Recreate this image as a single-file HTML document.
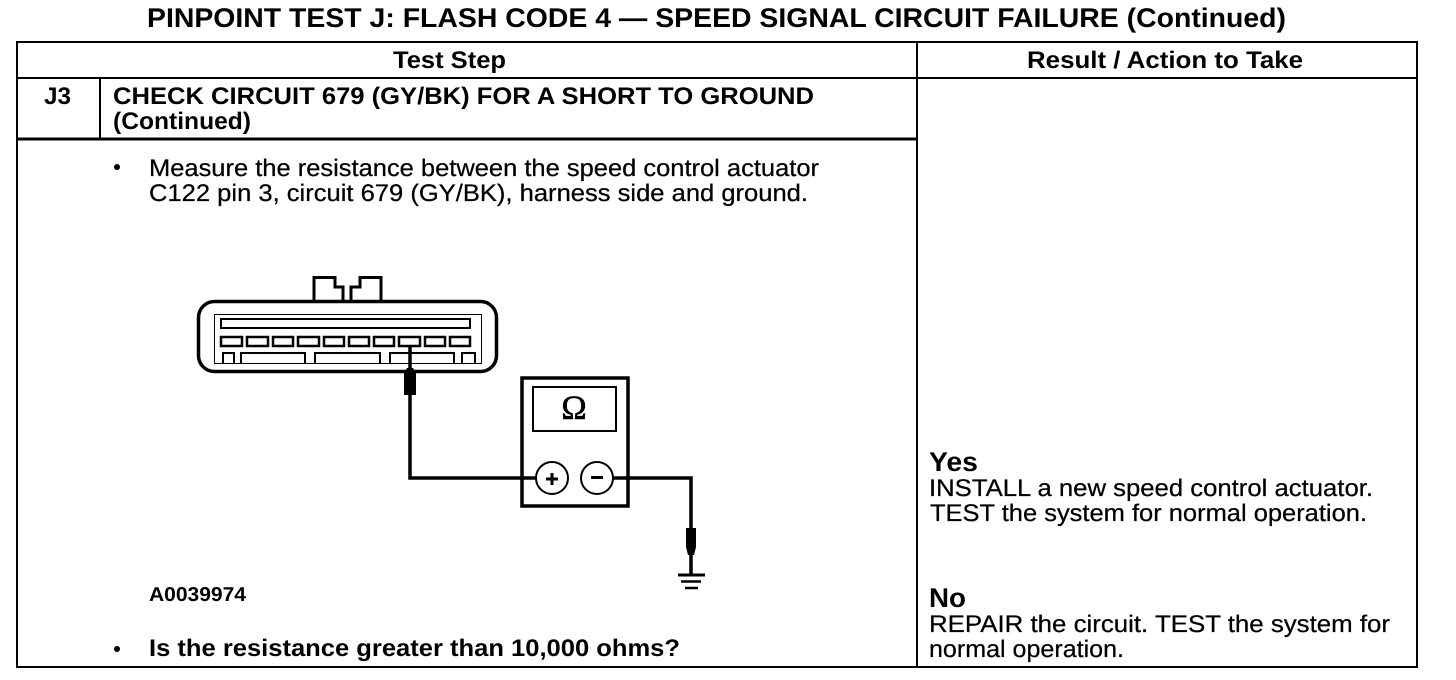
<!DOCTYPE html>
<html>
<head>
<meta charset="utf-8">
<style>
html,body{margin:0;padding:0;background:#fff;width:1456px;height:680px;overflow:hidden}
svg{display:block}
text{font-family:"Liberation Sans",Arial,sans-serif;fill:#000;text-rendering:geometricPrecision}
.b{font-weight:bold}
.r{font-size:24px;stroke:#000;stroke-width:.25px}
.h{font-size:24px;font-weight:bold}
</style>
</head>
<body>
<svg width="1456" height="680" viewBox="0 0 1456 680" xmlns="http://www.w3.org/2000/svg">
<rect width="1456" height="680" fill="#fff"/>

<text class="b" x="147" y="27" font-size="27" textLength="1139" lengthAdjust="spacingAndGlyphs">PINPOINT TEST J: FLASH CODE 4 — SPEED SIGNAL CIRCUIT FAILURE (Continued)</text>

<g fill="none" stroke="#000">
<rect x="17" y="42" width="1400" height="625" stroke-width="2"/>
<path d="M17 78H1417" stroke-width="2"/>
<path d="M17 139H917" stroke-width="3"/>
<path d="M100 78V139" stroke-width="2"/>
<path d="M917 42V667" stroke-width="2"/>
</g>

<text class="h" x="393" y="68" textLength="113" lengthAdjust="spacingAndGlyphs">Test Step</text>
<text class="h" x="1027" y="68" textLength="276" lengthAdjust="spacingAndGlyphs">Result / Action to Take</text>
<text class="h" x="44" y="104" textLength="27" lengthAdjust="spacingAndGlyphs">J3</text>
<text class="h" x="113" y="104" textLength="701" lengthAdjust="spacingAndGlyphs">CHECK CIRCUIT 679 (GY/BK) FOR A SHORT TO GROUND</text>
<text class="h" x="113" y="129" textLength="138" lengthAdjust="spacingAndGlyphs">(Continued)</text>

<circle cx="117" cy="167" r="3" fill="#000"/>
<text class="r" x="149" y="176" textLength="670" lengthAdjust="spacingAndGlyphs">Measure the resistance between the speed control actuator</text>
<text class="r" x="149" y="201" textLength="659" lengthAdjust="spacingAndGlyphs">C122 pin 3, circuit 679 (GY/BK), harness side and ground.</text>

<!-- connector -->
<g fill="none" stroke="#000">
<rect x="198.500" y="301.500" width="298" height="70" rx="16" ry="16" stroke-width="3.500"/>
<rect x="214.500" y="314.500" width="267" height="49" stroke-width="1"/>
<rect x="221" y="319" width="249" height="9" stroke-width="2"/>
<g stroke-width="2.500">
<rect x="221" y="337" width="21" height="9"/>
<rect x="247" y="337" width="21" height="9"/>
<rect x="273" y="337" width="20" height="9"/>
<rect x="298" y="337" width="21" height="9"/>
<rect x="324" y="337" width="20" height="9"/>
<rect x="349" y="337" width="20" height="9"/>
<rect x="374" y="337" width="20" height="9"/>
<rect x="399" y="337" width="21" height="9"/>
<rect x="425" y="337" width="20" height="9"/>
<rect x="450" y="337" width="20" height="9"/>
</g>
<path d="M223 364V353H234V364M241 364V353H305V364M315 364V353H380V364M390 364V353H454V364M462 364V353H475V364" stroke-width="2"/>
<path d="M314 300V277.500H335V287H343V300M351 300V287H360V277.500H381V300" stroke-width="3"/>
</g>

<!-- meter -->
<g fill="none" stroke="#000">
<rect x="522" y="378" width="106" height="128" stroke-width="3.500"/>
<rect x="533" y="387" width="83" height="44" stroke-width="2"/>
<path d="M410 346V478H536" stroke-width="3.500"/>
<path d="M613 478H691V574" stroke-width="3.500"/>
<circle cx="552" cy="478" r="16" fill="#fff" stroke-width="2"/>
<circle cx="597" cy="478" r="16" fill="#fff" stroke-width="2"/>
<path d="M546 479H558M552 473V485M591 477.500H603" stroke-width="3"/>
<path d="M678 575H705" stroke-width="3"/>
<path d="M681 581.500H701" stroke-width="2.500"/>
<path d="M685 588H698" stroke-width="2.500"/>
</g>
<path d="M407 368H413L416 373V395H404V373Z" fill="#000"/>
<path d="M686 528H696V547L694 555H688L686 547Z" fill="#000"/>
<text x="574" y="419" font-size="34" text-anchor="middle" style="font-family:'Liberation Serif',serif;stroke:#000;stroke-width:.6px">Ω</text>

<text class="b" x="149" y="601" font-size="20" textLength="97" lengthAdjust="spacingAndGlyphs">A0039974</text>

<circle cx="117" cy="649" r="3" fill="#000"/>
<text class="h" x="149" y="656" textLength="531" lengthAdjust="spacingAndGlyphs">Is the resistance greater than 10,000 ohms?</text>

<text class="b" x="929" y="471" font-size="27" textLength="49" lengthAdjust="spacingAndGlyphs">Yes</text>
<text class="r" x="929" y="496" textLength="444" lengthAdjust="spacingAndGlyphs">INSTALL a new speed control actuator.</text>
<text class="r" x="930" y="521" textLength="437" lengthAdjust="spacingAndGlyphs">TEST the system for normal operation.</text>
<text class="b" x="929" y="607" font-size="27" textLength="37" lengthAdjust="spacingAndGlyphs">No</text>
<text class="r" x="929" y="632" textLength="461" lengthAdjust="spacingAndGlyphs">REPAIR the circuit. TEST the system for</text>
<text class="r" x="929" y="657" textLength="195" lengthAdjust="spacingAndGlyphs">normal operation.</text>
</svg>
</body>
</html>
